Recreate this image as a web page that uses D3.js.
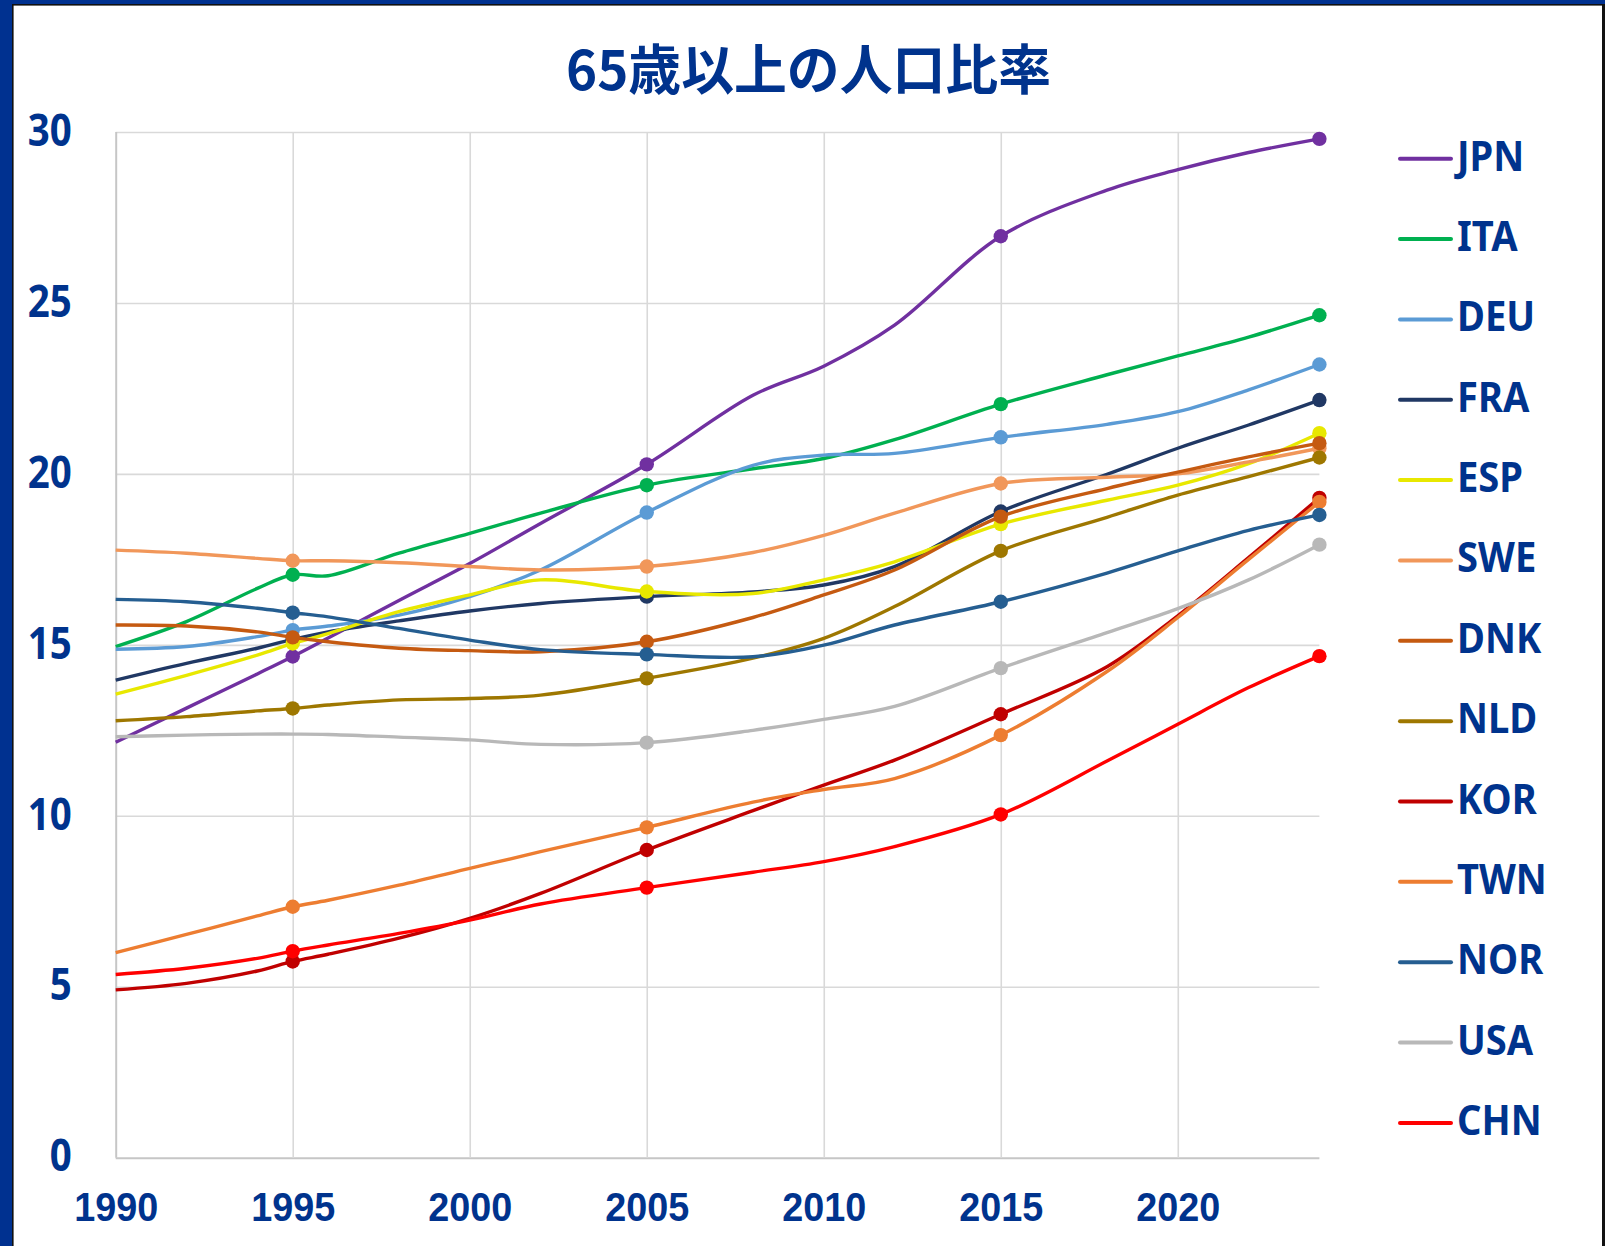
<!DOCTYPE html>
<html>
<head>
<meta charset="utf-8">
<script src="https://cdn.jsdelivr.net/npm/d3@7"></script>
<style>
  html, body { margin: 0; padding: 0; background: #fff; }
  svg { display: block; }
</style>
</head>
<body>
<svg id="chart" width="1605" height="1246"></svg>
<script>
const title = "65歳以上の人口比率";
const years = [1990, 1992, 1994, 1995, 1996, 1998, 2000, 2002, 2005, 2008, 2010, 2012, 2015, 2018, 2020, 2022, 2024];
const markerYears = [1995, 2005, 2015, 2024];
const noMarker = [["USA", 1995]];
const xTicks = [1990, 1995, 2000, 2005, 2010, 2015, 2020];
const yTicks = [0, 5, 10, 15, 20, 25, 30];
const countries = ["JPN", "ITA", "DEU", "FRA", "ESP", "SWE", "DNK", "NLD", "KOR", "TWN", "NOR", "USA", "CHN"];
const colors = ["#7030A0", "#00B050", "#5B9BD5", "#203864", "#E8E800", "#F1975A", "#C55A11", "#9E7700", "#C00000", "#ED7D31", "#255E91", "#B8B8B8", "#FF0000"];

const JPN = [12.15, 13.15, 14.15, 14.66, 15.2, 16.3, 17.38, 18.55, 20.28, 22.3, 23.15, 24.35, 26.95, 28.3, 28.9, 29.4, 29.8];
const ITA = [14.95, 15.68, 16.65, 17.05, 17.02, 17.68, 18.26, 18.85, 19.67, 20.15, 20.45, 21.0, 22.04, 22.9, 23.45, 24.0, 24.64];
const DEU = [14.87, 14.95, 15.24, 15.43, 15.55, 15.87, 16.41, 17.19, 18.87, 20.25, 20.55, 20.6, 21.07, 21.45, 21.82, 22.46, 23.2];
const FRA = [13.97, 14.46, 14.9, 15.16, 15.38, 15.7, 15.99, 16.21, 16.41, 16.55, 16.75, 17.29, 18.9, 19.99, 20.75, 21.43, 22.16];
const ESP = [13.56, 14.11, 14.7, 15.04, 15.33, 15.97, 16.46, 16.9, 16.56, 16.5, 16.9, 17.43, 18.53, 19.23, 19.67, 20.3, 21.19];
const SWE = [17.77, 17.68, 17.53, 17.46, 17.46, 17.4, 17.29, 17.19, 17.29, 17.7, 18.2, 18.85, 19.72, 19.9, 20.0, 20.35, 20.75];
const DNK = [15.58, 15.55, 15.38, 15.22, 15.09, 14.9, 14.83, 14.8, 15.09, 15.8, 16.46, 17.19, 18.75, 19.57, 20.05, 20.5, 20.9];
const NLD = [12.78, 12.9, 13.07, 13.14, 13.24, 13.39, 13.43, 13.53, 14.02, 14.61, 15.19, 16.12, 17.75, 18.73, 19.38, 19.92, 20.48];
const KOR = [4.91, 5.1, 5.46, 5.74, 5.95, 6.42, 7.0, 7.73, 9.0, 10.15, 10.9, 11.63, 12.97, 14.36, 15.85, 17.55, 19.3];
const TWN = [6.0, 6.53, 7.07, 7.34, 7.53, 7.97, 8.46, 8.95, 9.66, 10.4, 10.77, 11.09, 12.36, 14.22, 15.8, 17.5, 19.18];
const NOR = [16.33, 16.26, 16.07, 15.94, 15.82, 15.48, 15.14, 14.86, 14.72, 14.65, 14.99, 15.58, 16.26, 17.1, 17.75, 18.35, 18.8];
const USA = [12.31, 12.36, 12.39, 12.39, 12.38, 12.3, 12.22, 12.09, 12.14, 12.5, 12.82, 13.2, 14.32, 15.36, 16.06, 16.9, 17.93];
const CHN = [5.36, 5.54, 5.83, 6.04, 6.22, 6.56, 6.95, 7.42, 7.9, 8.35, 8.66, 9.1, 10.04, 11.6, 12.68, 13.75, 14.67];

const seriesValues = { JPN, ITA, DEU, FRA, ESP, SWE, DNK, NLD, KOR, TWN, NOR, USA, CHN };
const series = countries.map((c, i) => ({
  name: c, color: colors[i],
  points: years.map((yr, j) => ({ year: yr, value: seriesValues[c][j] }))
}));

const BLUE = "#00338D";
const svg = d3.select("#chart");

const x = d3.scaleLinear().domain([1990, 2024]).range([115.7, 1319.4]);
const y = d3.scaleLinear().domain([0, 30]).range([1157.7, 132]);
const plotW = x(2024) - x(1990);
const plotH = y(0) - y(30);

// frame
svg.append("rect").attr("x", 0).attr("y", 0).attr("width", 1605).attr("height", 1246).attr("fill", "#fff");
svg.append("rect").attr("x", 0).attr("y", 0).attr("width", 12).attr("height", 1246).attr("fill", "#003190");
svg.append("rect").attr("x", 0).attr("y", 0).attr("width", 1605).attr("height", 4).attr("fill", "#003190");
svg.append("rect").attr("x", 12).attr("y", 4).attr("width", 1.6).attr("height", 1242).attr("fill", "#111");
svg.append("rect").attr("x", 12).attr("y", 4).attr("width", 1593).attr("height", 1.6).attr("fill", "#111");
svg.append("rect").attr("x", 1602).attr("y", 4).attr("width", 3).attr("height", 1242).attr("fill", "#111");

// title
svg.append("text")
  .attr("x", 808.5).attr("y", 89.5)
  .attr("text-anchor", "middle")
  .attr("font-family", "'Noto Sans CJK JP', 'Noto Sans CJK SC', sans-serif")
  .attr("font-weight", 700)
  .attr("font-size", 54)
  .attr("fill", BLUE)
  .attr("textLength", 485)
  .attr("lengthAdjust", "spacingAndGlyphs")
  .text(title);

// y axis with gridlines
const yAxis = svg.append("g")
  .attr("transform", `translate(${x(1990)},0)`)
  .call(d3.axisLeft(y).tickValues(yTicks).tickSize(-plotW).tickPadding(44).tickFormat(d3.format("d")));
yAxis.select(".domain").remove();
yAxis.selectAll(".tick line").attr("stroke", "#D9D9D9").attr("stroke-width", 1.6);
yAxis.selectAll(".tick").filter(d => d === 0).select("line").attr("stroke", "#C6C6C6").attr("stroke-width", 2);
yAxis.selectAll(".tick text")
  .attr("font-family", "'Noto Sans', 'Liberation Sans', sans-serif")
  .attr("font-weight", 700)
  .attr("font-size", 44)
  .attr("fill", BLUE)
  .attr("dy", "0.3em")
  .attr("textLength", d => String(d).length * 22)
  .attr("lengthAdjust", "spacingAndGlyphs");

// x axis with gridlines
const xAxis = svg.append("g")
  .attr("transform", `translate(0,${y(0)})`)
  .call(d3.axisBottom(x).tickValues(xTicks).tickSize(-plotH).tickPadding(34).tickFormat(d3.format("d")));
xAxis.select(".domain").remove();
xAxis.selectAll(".tick line").attr("stroke", "#D9D9D9").attr("stroke-width", 1.6);
xAxis.selectAll(".tick").filter(d => d === 1990).select("line").attr("stroke", "#C6C6C6").attr("stroke-width", 2);
xAxis.selectAll(".tick text")
  .attr("font-family", "'Liberation Sans', Arial, sans-serif")
  .attr("font-weight", 700)
  .attr("font-size", 41)
  .attr("fill", BLUE)
  .attr("textLength", 84)
  .attr("lengthAdjust", "spacingAndGlyphs");

// lines
const line = d3.line()
  .x(d => x(d.year))
  .y(d => y(d.value))
  .curve(d3.curveCatmullRom.alpha(0.5));

const g = svg.append("g");
series.forEach(s => {
  g.append("path")
    .datum(s.points)
    .attr("fill", "none")
    .attr("stroke", s.color)
    .attr("stroke-width", 3.4)
    .attr("stroke-linejoin", "round")
    .attr("d", line);
  const marks = s.points.filter(p => markerYears.includes(p.year) &&
    !noMarker.some(n => n[0] === s.name && n[1] === p.year));
  g.selectAll(null).data(marks).enter().append("circle")
    .attr("cx", d => x(d.year))
    .attr("cy", d => y(d.value))
    .attr("r", 7.2)
    .attr("fill", s.color);
});

// legend
const legend = svg.append("g");
series.forEach((s, i) => {
  const ly = 158.7 + i * 80.35;
  legend.append("line")
    .attr("x1", 1400).attr("x2", 1451)
    .attr("y1", ly).attr("y2", ly)
    .attr("stroke", s.color).attr("stroke-width", 4).attr("stroke-linecap", "round");
  const t = legend.append("text")
    .attr("x", 1457).attr("y", ly + 12)
    .attr("font-family", "'Noto Sans', 'Liberation Sans', sans-serif")
    .attr("font-weight", 700)
    .attr("font-size", 41)
    .attr("fill", BLUE)
    .text(s.name);
  const w = t.node().getComputedTextLength();
  t.attr("textLength", w * 0.93).attr("lengthAdjust", "spacingAndGlyphs");
});
</script>
</body>
</html>
